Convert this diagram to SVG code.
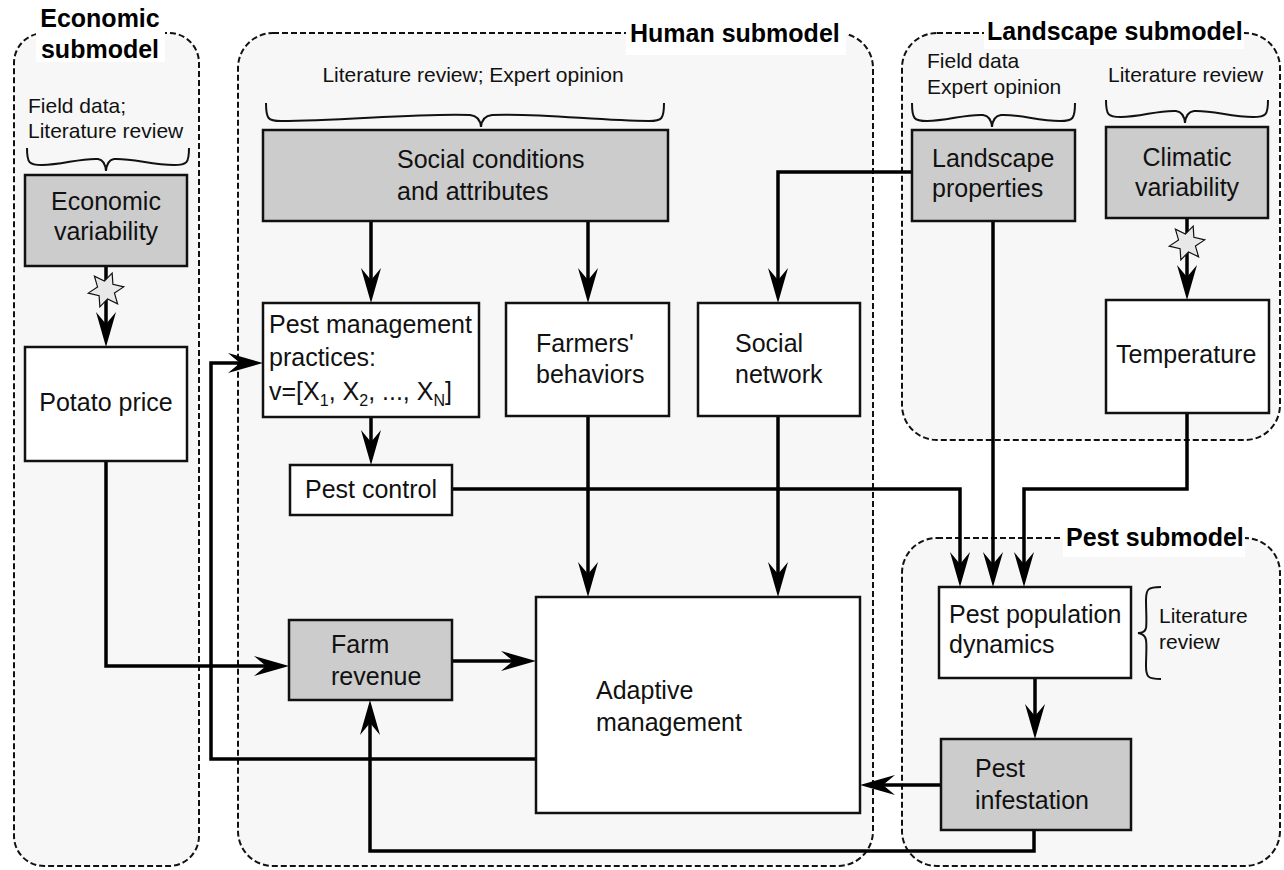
<svg xmlns="http://www.w3.org/2000/svg" width="1284" height="870" viewBox="0 0 1284 870">
<style>
  .panel{fill:#f7f7f7;stroke:#111;stroke-width:2;stroke-dasharray:6,3}
  .tbg{fill:#ffffff}
  .title{font-family:"Liberation Sans",Arial,sans-serif;font-size:25px;font-weight:bold;fill:#000}
  .box{stroke:#111;stroke-width:2.5}
  .white{fill:#ffffff}
  .gray{fill:#cccccc}
  .t{font-family:"Liberation Sans",Arial,sans-serif;font-size:25px;fill:#111}
  .ann{font-family:"Liberation Sans",Arial,sans-serif;font-size:21px;fill:#111}
  .brace{fill:none;stroke:#111;stroke-width:2}
  .conn{fill:none;stroke:#000;stroke-width:3.5;marker-end:url(#arr)}
  .star{fill:#e8e8e8;stroke:#111;stroke-width:1.2}
</style>
<defs>
  <marker id="arr" markerWidth="40" markerHeight="24" viewBox="-36 -12 40 24" refX="-8" refY="0" orient="auto" markerUnits="userSpaceOnUse">
    <path d="M0,0 L-35,-10 L-23,0 L-35,10 Z" fill="#000"/>
  </marker>
  <polygon id="star6" points="0,-18 4.5,-7.8 15.6,-9 9,0 15.6,9 4.5,7.8 0,18 -4.5,7.8 -15.6,9 -9,0 -15.6,-9 -4.5,-7.8"/>
</defs>
<rect width="1284" height="870" fill="#ffffff"/>

<g id="panels">
  <rect class="panel" x="14" y="33" width="185" height="833" rx="30"/>
  <rect class="panel" x="238" y="33" width="635" height="833" rx="35"/>
  <rect class="panel" x="902" y="33" width="378" height="407" rx="35"/>
  <rect class="panel" x="902" y="538" width="378" height="328" rx="35"/>
  <rect class="tbg" x="36" y="0" width="129" height="62"/>
  <text class="title" x="100" y="27" text-anchor="middle">Economic</text>
  <text class="title" x="100" y="58" text-anchor="middle">submodel</text>
  <rect class="tbg" x="626" y="21" width="220" height="34"/>
  <text class="title" x="630" y="42">Human submodel</text>
  <rect class="tbg" x="984" y="17" width="260" height="32"/>
  <text class="title" x="987" y="40">Landscape submodel</text>
  <rect class="tbg" x="1063" y="524" width="182" height="33"/>
  <text class="title" x="1066" y="546">Pest submodel</text>
</g>

<g id="annotations">
  <text class="ann" x="28" y="113">Field data;</text>
  <text class="ann" x="28" y="138">Literature review</text>
  <path class="brace" d="M27,148 C27,163 29,165 42,165 C62,165 80,158 98,159 Q105,160 106,171 M189,148 C189,163 187,165 174,165 C152,165 132,158 114,159 Q107,160 106,171"/>
  <text class="ann" x="473" y="82" text-anchor="middle">Literature review; Expert opinion</text>
  <path class="brace" d="M266,103 C266,119 268,121 281,121 C340,121 420,113 470,115 Q480,116 481,127 M664,103 C664,119 662,121 649,121 C600,121 540,113 492,115 Q482,116 481,127"/>
  <text class="ann" x="927" y="68">Field data</text>
  <text class="ann" x="927" y="94">Expert opinion</text>
  <path class="brace" d="M912,103 C912,119 914,121 927,121 C947,121 965,114 983,115 Q991,116 992,127 M1075,103 C1075,119 1073,121 1060,121 C1038,121 1019,114 1001,115 Q993,116 992,127"/>
  <text class="ann" x="1108" y="82">Literature review</text>
  <path class="brace" d="M1106,100 C1106,115 1108,117 1121,117 C1141,117 1158,110 1176,111 Q1184,112 1185,123 M1268,100 C1268,115 1266,117 1253,117 C1231,117 1212,110 1194,111 Q1186,112 1185,123"/>
  <path class="brace" d="M1161,587 C1148,587 1146,589 1146,600 C1146,612 1147,622 1146,628 Q1145,633 1138,633 Q1145,634 1146,640 C1147,646 1146,656 1146,666 C1146,677 1148,679 1161,679"/>
  <text class="ann" x="1159" y="623">Literature</text>
  <text class="ann" x="1159" y="649">review</text>
</g>

<g id="connectors">
  <path class="conn" d="M106,266 L106,339"/>
  <path class="conn" d="M106,461 L106,666 L281,666"/>
  <path class="conn" d="M452,661 L528,661"/>
  <path class="conn" d="M536,759 L211,759 L211,363 L255,363"/>
  <path class="conn" d="M371,221 L371,295"/>
  <path class="conn" d="M588,221 L588,295"/>
  <path class="conn" d="M912,172 L778,172 L778,295"/>
  <path class="conn" d="M371,417 L371,457"/>
  <path class="conn" d="M588,416 L588,589"/>
  <path class="conn" d="M778,416 L778,589"/>
  <path class="conn" d="M452,489 L960,489 L960,579"/>
  <path class="conn" d="M993,221 L993,579"/>
  <path class="conn" d="M1187,413 L1187,489 L1024,489 L1024,579"/>
  <path class="conn" d="M1187,218 L1187,292"/>
  <path class="conn" d="M1035,678 L1035,731"/>
  <path class="conn" d="M941,785 L868,785"/>
  <path class="conn" d="M1034,830 L1034,851 L370,851 L370,708"/>
  <use href="#star6" class="star" transform="translate(106,290) rotate(20)"/>
  <use href="#star6" class="star" transform="translate(1187,243) rotate(20)"/>
</g>

<g id="economic-variability">
  <rect class="box gray" x="25" y="175" width="162" height="91"/>
  <text class="t" x="106" y="210" text-anchor="middle">Economic</text>
  <text class="t" x="106" y="240" text-anchor="middle">variability</text>
</g>
<g id="potato-price">
  <rect class="box white" x="25" y="347" width="162" height="114"/>
  <text class="t" x="106" y="411" text-anchor="middle">Potato price</text>
</g>
<g id="social-conditions">
  <rect class="box gray" x="263" y="130" width="405" height="91"/>
  <text class="t" x="397" y="168">Social conditions</text>
  <text class="t" x="397" y="200">and attributes</text>
</g>
<g id="pest-management-practices">
  <rect class="box white" x="263" y="303" width="216" height="114"/>
  <text class="t" x="269" y="333">Pest management</text>
  <text class="t" x="269" y="366">practices:</text>
  <text class="t" x="269" y="400">v=[X<tspan dy="6" font-size="16">1</tspan><tspan dy="-6">, X</tspan><tspan dy="6" font-size="16">2</tspan><tspan dy="-6">, ..., X</tspan><tspan dy="6" font-size="16">N</tspan><tspan dy="-6">]</tspan></text>
</g>
<g id="farmers-behaviors">
  <rect class="box white" x="506" y="303" width="163" height="113"/>
  <text class="t" x="536" y="352">Farmers'</text>
  <text class="t" x="536" y="383">behaviors</text>
</g>
<g id="social-network">
  <rect class="box white" x="698" y="303" width="162" height="113"/>
  <text class="t" x="735" y="352">Social</text>
  <text class="t" x="735" y="383">network</text>
</g>
<g id="pest-control">
  <rect class="box white" x="290" y="465" width="162" height="50"/>
  <text class="t" x="371" y="498" text-anchor="middle">Pest control</text>
</g>
<g id="farm-revenue">
  <rect class="box gray" x="289" y="620" width="163" height="80"/>
  <text class="t" x="331" y="653">Farm</text>
  <text class="t" x="331" y="685">revenue</text>
</g>
<g id="adaptive-management">
  <rect class="box white" x="536" y="597" width="324" height="216"/>
  <text class="t" x="596" y="699">Adaptive</text>
  <text class="t" x="596" y="731">management</text>
</g>
<g id="landscape-properties">
  <rect class="box gray" x="912" y="130" width="163" height="91"/>
  <text class="t" x="932" y="167">Landscape</text>
  <text class="t" x="932" y="197">properties</text>
</g>
<g id="climatic-variability">
  <rect class="box gray" x="1106" y="127" width="162" height="91"/>
  <text class="t" x="1187" y="166" text-anchor="middle">Climatic</text>
  <text class="t" x="1187" y="196" text-anchor="middle">variability</text>
</g>
<g id="temperature">
  <rect class="box white" x="1106" y="300" width="163" height="113"/>
  <text class="t" x="1116" y="363">Temperature</text>
</g>
<g id="pest-population-dynamics">
  <rect class="box white" x="939" y="587" width="192" height="91"/>
  <text class="t" x="949" y="623">Pest population</text>
  <text class="t" x="949" y="653">dynamics</text>
</g>
<g id="pest-infestation">
  <rect class="box gray" x="941" y="739" width="190" height="91"/>
  <text class="t" x="975" y="777">Pest</text>
  <text class="t" x="975" y="809">infestation</text>
</g>
</svg>
